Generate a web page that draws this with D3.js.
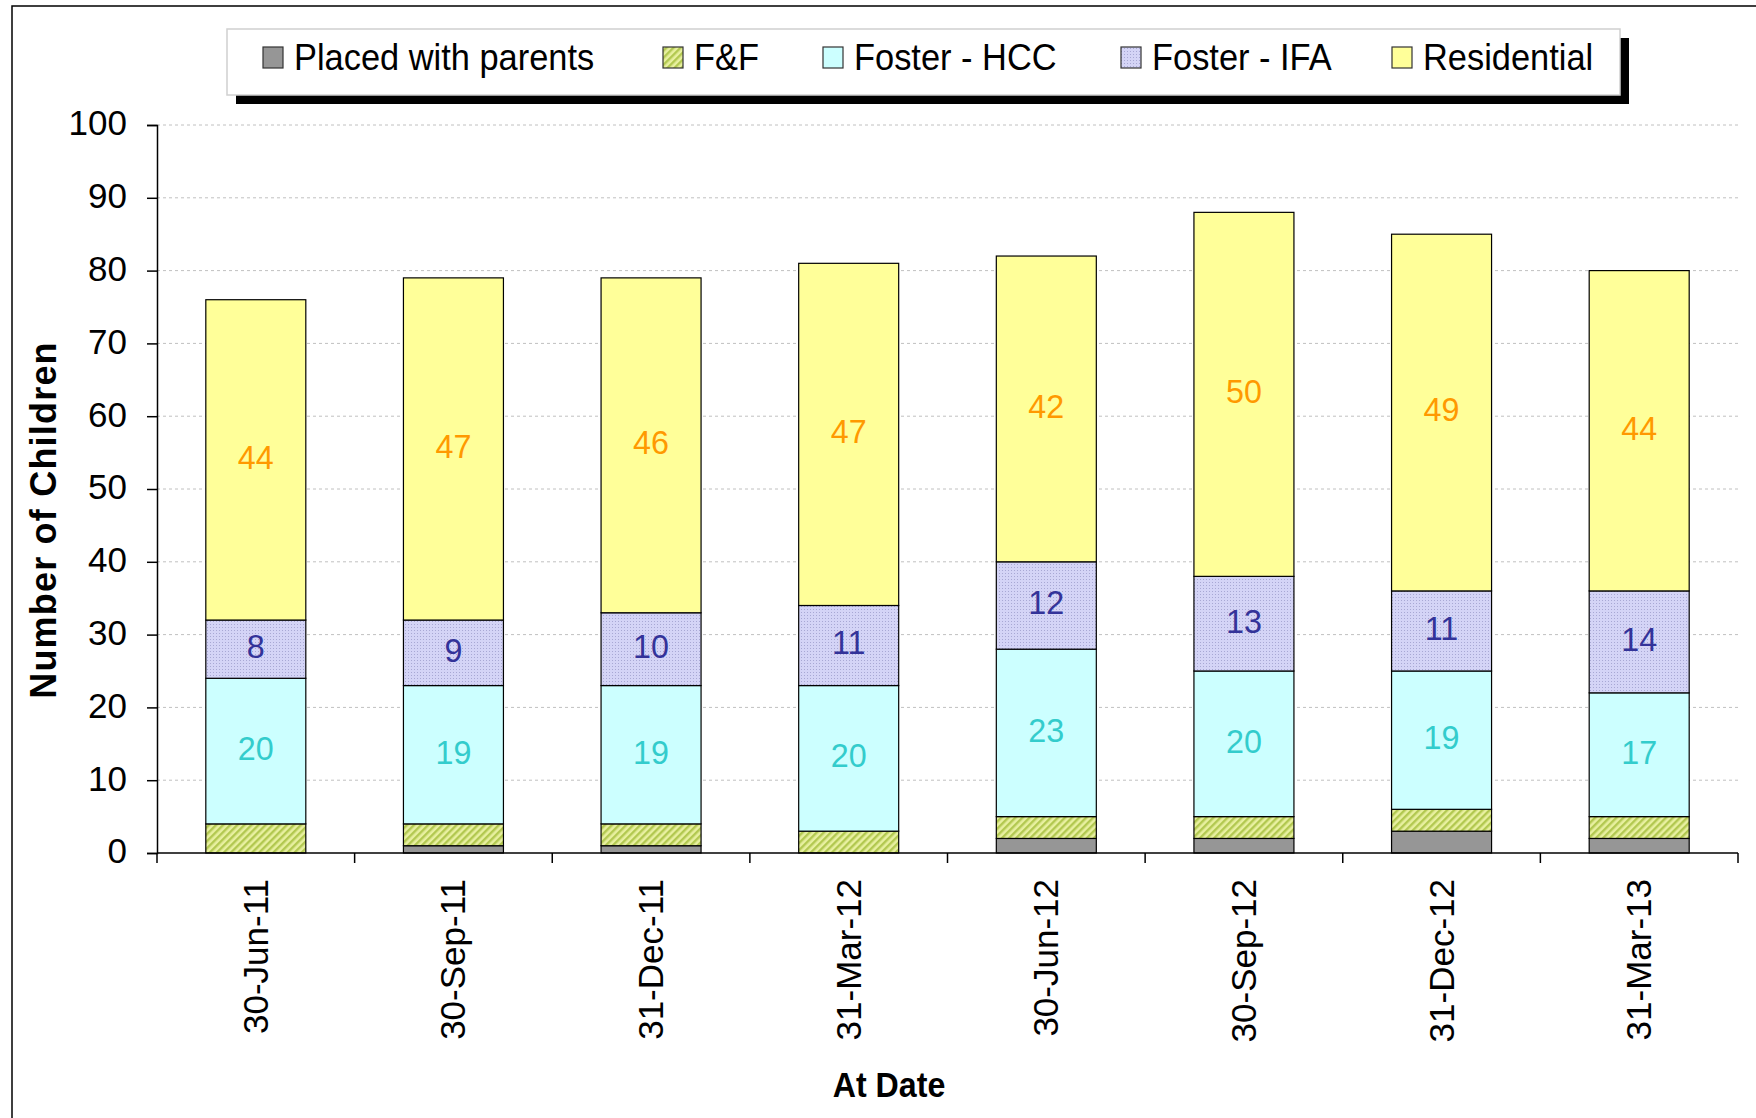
<html>
  <head>
    <meta charset="utf-8">
    <title>Number of Children</title>
    <script src="https://d3js.org/d3.v7.min.js"></script>
    <style type="text/css">
      body { margin: 0; background: #fff; }
      svg { display: block; font-family: "Liberation Sans", Arial, sans-serif; }
    </style>
  </head>
  <body>
    <div id="chart"></div>
  </body>
</html>
<script type="text/javascript">
  const width = 1756,
    height = 1118;

  // data
  const dates = ['30-Jun-11', '30-Sep-11', '31-Dec-11', '31-Mar-12', '30-Jun-12', '30-Sep-12', '31-Dec-12', '31-Mar-13'];
  const seriesNames = ['Placed with parents', 'F&F', 'Foster - HCC', 'Foster - IFA', 'Residential'];
  const parents = [0, 1, 1, 0, 2, 2, 3, 2];
  const ff = [4, 3, 3, 3, 3, 3, 3, 3];
  const hcc = [20, 19, 19, 20, 23, 20, 19, 17];
  const ifa = [8, 9, 10, 11, 12, 13, 11, 14];
  const residential = [44, 47, 46, 47, 42, 50, 49, 44];
  const yTicks = [0, 10, 20, 30, 40, 50, 60, 70, 80, 90, 100];

  const fills = ['#969696', 'url(#ffPat)', '#CCFFFF', 'url(#ifaPat)', '#FFFF99'];
  const labelColors = [null, null, '#33CCCC', '#333399', '#FF9900'];

  const rows = dates.map(function(d, i) {
    return { date: d, 'Placed with parents': parents[i], 'F&F': ff[i], 'Foster - HCC': hcc[i], 'Foster - IFA': ifa[i], 'Residential': residential[i] };
  });

  const svg = d3.select('#chart').append('svg')
    .attr('width', width)
    .attr('height', height);

  const defs = svg.append('defs');
  const ffPat = defs.append('pattern')
    .attr('id', 'ffPat')
    .attr('patternUnits', 'userSpaceOnUse')
    .attr('width', 5).attr('height', 5)
    .attr('patternTransform', 'rotate(45)');
  ffPat.append('rect').attr('width', 5).attr('height', 5).attr('fill', '#E8F0A0');
  ffPat.append('rect').attr('width', 2.4).attr('height', 5).attr('fill', '#B2C850');

  const ifaPat = defs.append('pattern')
    .attr('id', 'ifaPat')
    .attr('patternUnits', 'userSpaceOnUse')
    .attr('width', 3).attr('height', 3);
  ifaPat.append('rect').attr('width', 3).attr('height', 3).attr('fill', '#D4D4F6');
  ifaPat.append('rect').attr('width', 1).attr('height', 1).attr('fill', '#A8A8D4');

  // outer frame
  svg.append('rect')
    .attr('x', 12).attr('y', 6)
    .attr('width', width).attr('height', height)
    .attr('fill', 'none')
    .attr('stroke', '#000')
    .attr('stroke-width', 1.5);

  const x = d3.scaleBand()
    .domain(dates)
    .range([157, 1738])
    .paddingInner(0.494)
    .paddingOuter(0.247);

  const xOuter = d3.scaleBand()
    .domain(dates)
    .range([157, 1738]);

  const y = d3.scaleLinear()
    .domain([0, 100])
    .range([853, 125]);

  // gridlines
  svg.append('g')
    .selectAll('line')
    .data(yTicks.filter(function(t) { return t > 0; }))
    .enter().append('line')
      .attr('x1', 157).attr('x2', 1738)
      .attr('y1', function(d) { return y(d); })
      .attr('y2', function(d) { return y(d); })
      .attr('stroke', '#C0C0C0')
      .attr('stroke-width', 1)
      .attr('stroke-dasharray', '3,3');

  // stacked bars
  const stack = d3.stack().keys(seriesNames);
  const layers = stack(rows);

  const layerG = svg.append('g')
    .selectAll('g')
    .data(layers)
    .enter().append('g')
      .attr('fill', function(d, i) { return fills[i]; });

  layerG.selectAll('rect')
    .data(function(d) { return d; })
    .enter().append('rect')
      .attr('x', function(d) { return x(d.data.date); })
      .attr('width', x.bandwidth())
      .attr('y', function(d) { return y(d[1]); })
      .attr('height', function(d) { return y(d[0]) - y(d[1]); })
      .attr('stroke', function(d) { return d[1] > d[0] ? '#000' : 'none'; })
      .attr('stroke-width', 1.2);

  // data labels
  layers.forEach(function(layer, i) {
    if (!labelColors[i]) return;
    svg.append('g')
      .selectAll('text')
      .data(layer)
      .enter().append('text')
        .attr('transform', function(d) {
          return 'translate(' + (x(d.data.date) + x.bandwidth() / 2) + ',' + y((d[0] + d[1]) / 2) + ') scale(0.95,1)';
        })
        .attr('text-anchor', 'middle')
        .attr('dy', '0.26em')
        .attr('font-size', 34)
        .attr('fill', labelColors[i])
        .text(function(d) { return d[1] - d[0]; });
  });

  // y axis
  const yAxis = svg.append('g')
    .attr('transform', 'translate(157,0)')
    .call(d3.axisLeft(y).tickValues(yTicks).tickSize(10).tickPadding(20));
  yAxis.select('.domain').attr('stroke', '#000').attr('stroke-width', 1.5);
  yAxis.selectAll('.tick line').attr('stroke', '#000').attr('stroke-width', 1.5);
  yAxis.selectAll('.tick text')
    .attr('font-size', 35)
    .attr('fill', '#000')
    .attr('font-family', '"Liberation Sans", Arial, sans-serif')
    .attr('dy', '0.28em');

  // x axis
  const xAxis = svg.append('g')
    .attr('transform', 'translate(0,853)');
  xAxis.append('line')
    .attr('x1', 157).attr('x2', 1738)
    .attr('stroke', '#000').attr('stroke-width', 1.5);
  xAxis.selectAll('.xt')
    .data(dates.concat(['end']))
    .enter().append('line')
      .attr('class', 'xt')
      .attr('x1', function(d) { return d === 'end' ? 1738 : xOuter(d); })
      .attr('x2', function(d) { return d === 'end' ? 1738 : xOuter(d); })
      .attr('y1', 0).attr('y2', 10)
      .attr('stroke', '#000').attr('stroke-width', 1.5);
  xAxis.selectAll('.xl')
    .data(dates)
    .enter().append('text')
      .attr('class', 'xl')
      .attr('transform', function(d) {
        return 'translate(' + (xOuter(d) + xOuter.bandwidth() / 2 + 12) + ',26) rotate(-90)';
      })
      .attr('text-anchor', 'end')
      .attr('font-size', 35)
      .attr('fill', '#000')
      .text(function(d) { return d; });

  // axis titles
  svg.append('text')
    .attr('transform', 'translate(889,1097) scale(0.92,1)')
    .attr('text-anchor', 'middle')
    .attr('font-size', 35)
    .attr('font-weight', 'bold')
    .text('At Date');

  svg.append('text')
    .attr('transform', 'translate(56,520) rotate(-90)')
    .attr('text-anchor', 'middle')
    .attr('font-size', 36)
    .attr('font-weight', 'bold')
    .attr('letter-spacing', 1.2)
    .text('Number of Children');

  // legend
  const legend = svg.append('g').attr('id', 'legend');
  legend.append('rect')
    .attr('x', 236).attr('y', 38)
    .attr('width', 1393).attr('height', 66)
    .attr('fill', '#000');
  legend.append('rect')
    .attr('x', 227).attr('y', 29)
    .attr('width', 1393).attr('height', 66)
    .attr('fill', '#fff')
    .attr('stroke', '#D0D0D0')
    .attr('stroke-width', 1.5);

  const legendX = [263, 663, 823, 1121, 1392];
  const items = legend.selectAll('.item')
    .data(seriesNames)
    .enter().append('g')
      .attr('class', 'item')
      .attr('transform', function(d, i) { return 'translate(' + legendX[i] + ',0)'; });
  items.append('rect')
    .attr('x', 0).attr('y', 47)
    .attr('width', 20).attr('height', 21)
    .attr('fill', function(d, i) { return fills[i]; })
    .attr('stroke', '#333')
    .attr('stroke-width', 1.2);
  items.append('text')
    .attr('transform', 'translate(31,70) scale(0.93,1)')
    .attr('font-size', 37)
    .attr('fill', '#000')
    .text(function(d) { return d; });
</script>
